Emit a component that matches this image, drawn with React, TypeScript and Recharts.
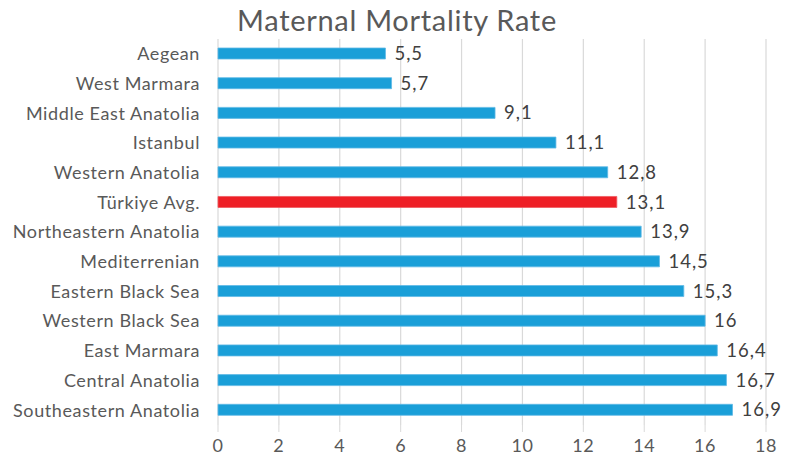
import React from "react";
import { BarChart, Bar, XAxis, YAxis, CartesianGrid, LabelList, Cell } from "recharts";

const regions = [
  "Aegean",
  "West Marmara",
  "Middle East Anatolia",
  "Istanbul",
  "Western Anatolia",
  "Türkiye Avg.",
  "Northeastern Anatolia",
  "Mediterrenian",
  "Eastern Black Sea",
  "Western Black Sea",
  "East Marmara",
  "Central Anatolia",
  "Southeastern Anatolia",
];
const rates = [5.5, 5.7, 9.1, 11.1, 12.8, 13.1, 13.9, 14.5, 15.3, 16, 16.4, 16.7, 16.9];
const xTicks = [0, 2, 4, 6, 8, 10, 12, 14, 16, 18];
const highlight = "Türkiye Avg.";

const data = regions.map((r, i) => ({ region: r, value: rates[i] }));

const FONT = "Lato, 'Open Sans', sans-serif";

export default function App() {
  return (
    <div style={{ position: "absolute", left: 0, top: 0, width: 790, height: 463, background: "#fff" }}>
      <div
        style={{
          position: "absolute",
          left: 0,
          top: 0,
          width: 794,
          textAlign: "center",
          fontFamily: FONT,
          fontSize: 29,
          letterSpacing: 0.7,
          color: "#595959",
          lineHeight: "40px",
        }}
      >
        Maternal Mortality Rate
      </div>
      <BarChart
        width={790}
        height={463}
        data={data}
        layout="vertical"
        margin={{ top: 39, right: 24, bottom: 0, left: 0 }}
        barCategoryGap={0}
      >
        <CartesianGrid horizontal={false} stroke="#d9d9d9" strokeWidth={1.2} />
        <XAxis
          type="number"
          domain={[0, 18]}
          ticks={xTicks}
          height={38}
          axisLine={false}
          tickLine={{ stroke: "#d9d9d9" }}
          tickSize={7}
          tickMargin={7}
          tick={{ fill: "#595959", fontSize: 18, fontFamily: FONT, letterSpacing: 0.6 }}
          interval={0}
        />
        <YAxis
          type="category"
          dataKey="region"
          width={218}
          axisLine={false}
          tickLine={false}
          tickSize={0}
          tickMargin={18}
          tick={{ fill: "#595959", fontSize: 18, fontFamily: FONT, letterSpacing: 0.6 }}
          interval={0}
        />
        <Bar dataKey="value" barSize={11} isAnimationActive={false} stroke="#5fb9e6" strokeWidth={0.8}>
          {data.map((d) => (
            <Cell
              key={d.region}
              fill={d.region === highlight ? "#ee1f26" : "#1a9fd8"}
              stroke={d.region === highlight ? "#f05a5f" : "#5fb9e6"}
            />
          ))}
          <LabelList
            dataKey="value"
            position="right"
            offset={9}
            formatter={(v: any) => String(v).replace(".", ",")}
            style={{ fill: "#404040", fontSize: 18.5, fontFamily: FONT, letterSpacing: 1 }}
          />
        </Bar>
      </BarChart>
    </div>
  );
}
